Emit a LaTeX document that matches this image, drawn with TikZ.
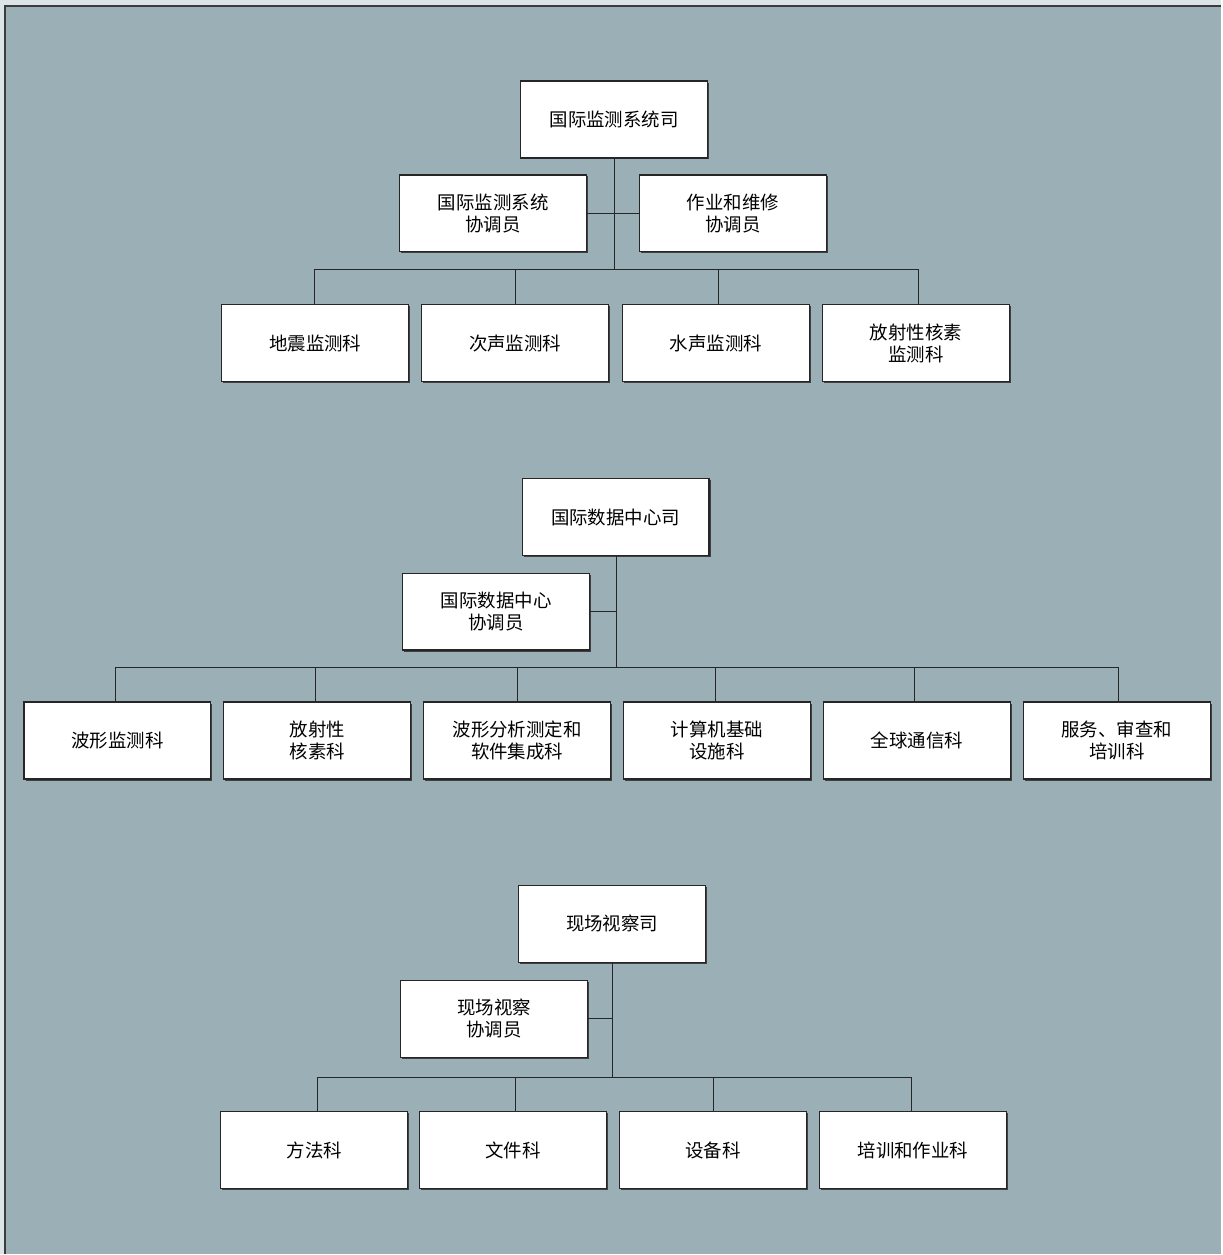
\documentclass[tikz,border=0pt]{standalone}
\usepackage{fontspec}
\newfontfamily\cjk{Noto Sans CJK SC}
\usepackage{tikz}
\usetikzlibrary{shadows}
\definecolor{outerbg}{HTML}{DDE4E7}
\definecolor{panelbg}{HTML}{9BB0B6}
\definecolor{rim}{HTML}{3C3C3C}

\begin{document}
\begin{tikzpicture}
		[x=0.02cm,y=-0.02cm,
		unit/.style= {draw=black!85,line width=0.7pt,fill=white,minimum width=3.74cm,minimum height=1.54cm,
			align=center,inner sep=0pt,font=\cjk\fontsize{10.5}{12.5}\selectfont,
			general shadow={shadow xshift=0.9pt,shadow yshift=-0.9pt,fill=black!75}},
		link/.style= {draw=black!85,line width=0.6pt}]

		% background and panel
		\fill[outerbg] (0,0) rectangle (1222,1255);
		\fill[panelbg] (5,6) rectangle (1222,1255);
		\draw[rim,line width=0.9pt] (5,1255) -- (5,6) -- (1222,6);

		% ---- 国际监测系统司 ----
		\node[unit] (ims) at (614.5,119.5) {国际监测系统司};
		\node[unit] (imsco) at (493.5,213.5) {国际监测系统\\协调员};
		\node[unit] (imsop) at (733.5,213.5) {作业和维修\\协调员};
		\coordinate (b1) at (615,270);
		\node[unit] (seis) at (315.5,343.5) {地震监测科};
		\node[unit] (infra) at (515.5,343.5) {次声监测科};
		\node[unit] (hydro) at (716.5,343.5) {水声监测科};
		\node[unit] (radio) at (916.5,343.5) {放射性核素\\监测科};

		\draw[link] (ims.south -| b1) -- (b1);
		\draw[link] (imsco.east) -- (imsop.west);
		\draw[link] (seis.north -| 315,0) |- (b1);
		\draw[link] (infra.north) |- (b1);
		\draw[link] (hydro.north -| 719,0) |- (b1);
		\draw[link] (radio.north -| 919,0) |- (b1);

		% ---- 国际数据中心司 ----
		\node[unit] (idc) at (616,517.5) {国际数据中心司};
		\node[unit] (idcco) at (496.5,612) {国际数据中心\\协调员};
		\coordinate (b2) at (617,668);
		\node[unit] (wave) at (117.5,741) {波形监测科};
		\node[unit] (rn) at (317.5,741) {放射性\\核素科};
		\node[unit] (wasi) at (517.5,741) {波形分析测定和\\软件集成科};
		\node[unit] (cisi) at (717.5,741) {计算机基础\\设施科};
		\node[unit] (gci) at (917.5,741) {全球通信科};
		\node[unit] (srt) at (1117.5,741) {服务、审查和\\培训科};

		\draw[link] (idc.south -| b2) -- (b2);
		\draw[link] (idcco.east) -- (idcco.east -| b2);
		\draw[link] (wave.north -| 116,0) |- (b2);
		\draw[link] (rn.north -| 316,0) |- (b2);
		\draw[link] (wasi.north -| 518,0) |- (b2);
		\draw[link] (cisi.north -| 716,0) |- (b2);
		\draw[link] (gci.north -| 915,0) |- (b2);
		\draw[link] (srt.north -| 1119,0) |- (b2);

		% ---- 现场视察司 ----
		\node[unit] (osi) at (612.5,924.5) {现场视察司};
		\node[unit] (osico) at (494.5,1019.5) {现场视察\\协调员};
		\coordinate (b3) at (613,1078);
		\node[unit] (meth) at (314.5,1151) {方法科};
		\node[unit] (doc) at (513.5,1151) {文件科};
		\node[unit] (equip) at (713.5,1151) {设备科};
		\node[unit] (train) at (913.5,1151) {培训和作业科};

		\draw[link] (osi.south -| b3) -- (b3);
		\draw[link] (osico.east) -- (osico.east -| b3);
		\draw[link] (meth.north -| 318,0) |- (b3);
		\draw[link] (doc.north -| 516,0) |- (b3);
		\draw[link] (equip.north -| 714,0) |- (b3);
		\draw[link] (train.north -| 912,0) |- (b3);

	\end{tikzpicture}
\end{document}
